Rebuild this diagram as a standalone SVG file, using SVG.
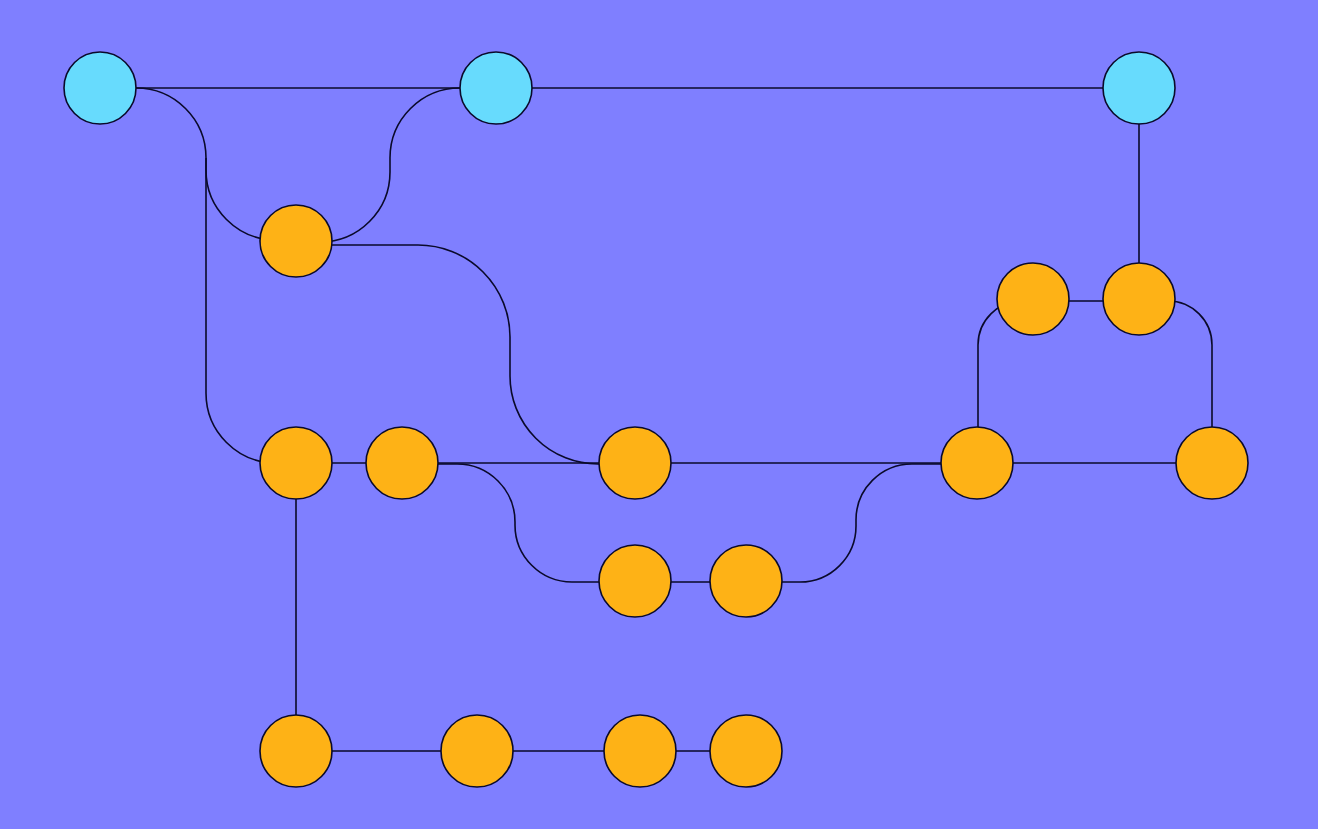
<svg xmlns="http://www.w3.org/2000/svg" width="1318" height="829" viewBox="0 0 1318 829">
<style>
.bg{fill:#7f7fff}
.edge{fill:none;stroke:#0a0a2a;stroke-width:1.6}
.main{fill:#67dbfd;stroke:#0a0a2a;stroke-width:1.6}
.commit{fill:#feb216;stroke:#0a0a2a;stroke-width:1.6}
</style>
<rect class="bg" x="0" y="0" width="1318" height="829"/>
<g id="connectors">
<path class="edge" d="M100,88 L1139,88"/>
<path class="edge" d="M136,88 A70,70 0 0 1 206,158 L206,393 A70,70 0 0 0 276,463 L296,463"/>
<path class="edge" d="M206,158 L206,170 A70,70 0 0 0 276,240 L296,240"/>
<path class="edge" d="M460,88 A70,70 0 0 0 390,158 L390,172 A70,70 0 0 1 320,242 L296,242"/>
<path class="edge" d="M296,245 L418,245 A92,92 0 0 1 510,337 L510,376 A88,88 0 0 0 598,464 L635,464"/>
<path class="edge" d="M296,463 L1212,463"/>
<path class="edge" d="M402,464 L457,464 A58,58 0 0 1 515,522 L515,525 A57,57 0 0 0 572,582 L745,582 L800,582 A56,56 0 0 0 856,526 L856,520 A56,56 0 0 1 912,464 L977,464"/>
<path class="edge" d="M296,463 L296,751 L745,751"/>
<path class="edge" d="M1139,88 L1139,301"/>
<path class="edge" d="M1033,301 L1168,301 A44,44 0 0 1 1212,345 L1212,463"/>
<path class="edge" d="M978,463 L978,345 A44,44 0 0 1 1022,301"/>
</g>
<g id="node-m1"><circle class="main" cx="100" cy="88" r="36"/></g>
<g id="node-m2"><circle class="main" cx="496" cy="88" r="36"/></g>
<g id="node-m3"><circle class="main" cx="1139" cy="88" r="36"/></g>
<g id="node-c1"><circle class="commit" cx="296" cy="241" r="36"/></g>
<g id="node-c2"><circle class="commit" cx="1033" cy="299" r="36"/></g>
<g id="node-c3"><circle class="commit" cx="1139" cy="299" r="36"/></g>
<g id="node-c4"><circle class="commit" cx="296" cy="463" r="36"/></g>
<g id="node-c5"><circle class="commit" cx="402" cy="463" r="36"/></g>
<g id="node-c6"><circle class="commit" cx="635" cy="463" r="36"/></g>
<g id="node-c7"><circle class="commit" cx="977" cy="463" r="36"/></g>
<g id="node-c8"><circle class="commit" cx="1212" cy="463" r="36"/></g>
<g id="node-c9"><circle class="commit" cx="635" cy="581" r="36"/></g>
<g id="node-c10"><circle class="commit" cx="746" cy="581" r="36"/></g>
<g id="node-c11"><circle class="commit" cx="296" cy="751" r="36"/></g>
<g id="node-c12"><circle class="commit" cx="477" cy="751" r="36"/></g>
<g id="node-c13"><circle class="commit" cx="640" cy="751" r="36"/></g>
<g id="node-c14"><circle class="commit" cx="746" cy="751" r="36"/></g>
</svg>
